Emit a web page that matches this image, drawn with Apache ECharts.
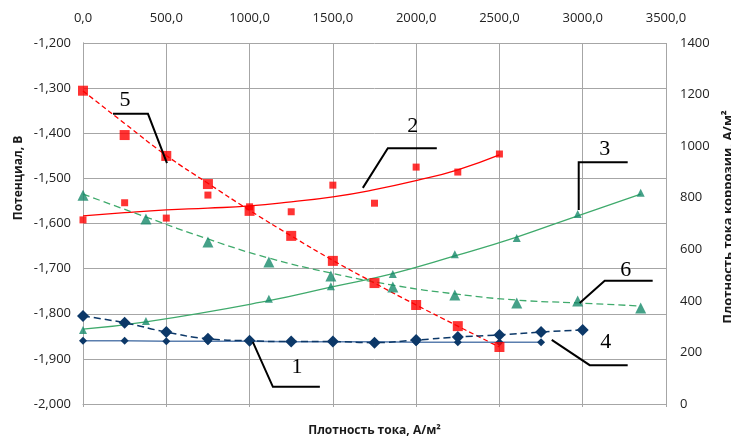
<!DOCTYPE html>
<html><head><meta charset="utf-8">
<script src="https://cdn.jsdelivr.net/npm/echarts@6/dist/echarts.min.js"></script>
<style>html,body{margin:0;padding:0;background:#fff}#c{width:731px;height:443px}</style>
</head><body><div id="c"></div>
<script>
// ---- data (x: current density, A/m2; potentials in V on left axis; corrosion current density on right axis) ----
const s1X = [0,250,500,750,1000,1250,1500,1750,2000,2250,2500,2750];
const s1Y = [-1.860,-1.860,-1.861,-1.861,-1.861,-1.862,-1.862,-1.862,-1.863,-1.863,-1.863,-1.863];

const s2X = [0,250,500,750,1000,1250,1500,1750,2000,2250,2500];
const s2Y = [-1.592,-1.554,-1.588,-1.537,-1.563,-1.574,-1.515,-1.555,-1.475,-1.486,-1.446];
const s2Trend = [-1.583,-1.576,-1.570,-1.566,-1.561,-1.552,-1.541,-1.525,-1.505,-1.481,-1.448];

const s3X = [0,378,1116,1488,1860,2232,2604,2970,3348];
const s3Y = [-1.836,-1.816,-1.767,-1.739,-1.712,-1.668,-1.632,-1.579,-1.532];
const s3Trend = [-1.834,-1.818,-1.771,-1.741,-1.711,-1.672,-1.630,-1.583,-1.535];

const s4X = [0,250,500,750,1000,1250,1500,1750,2000,2250,2500,2750,3000];
const s4Y = [341,315,279,253,245,242,242,238,248,260,268,279,287];

const s5X = [0,250,500,750,1000,1250,1500,1750,2000,2250,2500];
const s5Y = [1215,1043,962,853,749,652,555,469,384,302,221];
const s5Trend = [1214,1088,964,856,751,652,557,469,384,302,221];

const s6X = [0,378,750,1116,1488,1860,2232,2604,2970,3348];
const s6Y = [810,717,628,551,496,454,423,392,399,372];
const s6Trend = [814,725,640,566,508,461,427,403,392,380];

// annotation leader lines in data units (x, left-axis V)
const annotations = [
  {label:'5', at:[252,-1.326], pts:[[180,-1.357],[390,-1.357],[504,-1.466]]},
  {label:'2', at:[1980,-1.384], pts:[[1680,-1.521],[1830,-1.433],[2124,-1.433]]},
  {label:'3', at:[3132,-1.435], pts:[[2976,-1.570],[2976,-1.464],[3270,-1.464]]},
  {label:'6', at:[3258,-1.703], pts:[[2982,-1.776],[3132,-1.727],[3420,-1.727]]},
  {label:'4', at:[3138,-1.863], pts:[[2814,-1.858],[3042,-1.914],[3270,-1.914]]},
  {label:'1', at:[1284,-1.918], pts:[[1020,-1.863],[1140,-1.962],[1422,-1.962]]}
];

const zip = (xs, ys) => xs.map((x, i) => [x, ys[i]]);

const RED = '#ff0000', GREEN_M = '#17896a', GREEN_L = '#3faa6c', NAVY = '#0c3868', STEEL = '#5a7eae';
const GRID = '#a6a6a6';
const labelFont = {fontFamily: 'Open Sans', fontSize: 13, color: '#222'};

const chart = echarts.init(document.getElementById('c'), null, {renderer: 'canvas'});
chart.setOption({
  animation: false,
  backgroundColor: '#fff',
  grid: {left: 83, right: 65, top: 43, bottom: 39, containLabel: false},
  xAxis: [
    {type: 'value', position: 'top', min: 0, max: 3500, interval: 500,
     axisLine: {show: false}, axisTick: {show: false},
     axisLabel: Object.assign({formatter: v => v.toFixed(1).replace('.', ','), margin: 18}, labelFont),
     splitLine: {show: true, lineStyle: {color: GRID, width: 1}}},
    {type: 'value', position: 'bottom', min: 0, max: 3500, interval: 500,
     axisLine: {show: true, lineStyle: {color: GRID}}, axisTick: {show: true, inside: false, length: 3, lineStyle: {color: GRID}},
     axisLabel: {show: false}, splitLine: {show: false},
     name: 'Плотность тока, А/м²', nameLocation: 'middle', nameGap: 21,
     nameTextStyle: {fontFamily: 'Open Sans', fontWeight: 'bold', fontSize: 12, color: '#1a1a1a'}}
  ],
  yAxis: [
    {type: 'value', position: 'left', min: -2.0, max: -1.2, interval: 0.1,
     axisLine: {show: true, lineStyle: {color: GRID}}, axisTick: {show: false},
     axisLabel: Object.assign({formatter: v => v.toFixed(3).replace('.', ','), margin: 12}, labelFont),
     splitLine: {show: true, lineStyle: {color: GRID, width: 1}}},
    {type: 'value', position: 'right', min: 0, max: 1400, interval: 200,
     axisLine: {show: true, lineStyle: {color: GRID}}, axisTick: {show: false},
     axisLabel: Object.assign({formatter: v => String(Math.round(v)), margin: 14}, labelFont),
     splitLine: {show: false}}
  ],
  series: [
    // 1
    {name: '1', type: 'line', xAxisIndex: 0, yAxisIndex: 0, data: zip(s1X, s1Y),
     symbol: 'diamond', symbolSize: 8, itemStyle: {color: NAVY},
     lineStyle: {color: STEEL, width: 1.5}, z: 3},
    // 2 trend + markers
    {name: '2t', type: 'line', xAxisIndex: 0, yAxisIndex: 0, data: zip(s2X, s2Trend),
     smooth: true, showSymbol: false, lineStyle: {color: RED, width: 1.3}, z: 2},
    {name: '2', type: 'scatter', xAxisIndex: 0, yAxisIndex: 0, data: zip(s2X, s2Y),
     symbol: 'rect', symbolSize: 7, itemStyle: {color: RED}, z: 4},
    // 3 trend + markers
    {name: '3t', type: 'line', xAxisIndex: 0, yAxisIndex: 0, data: zip(s3X, s3Trend),
     smooth: true, showSymbol: false, lineStyle: {color: GREEN_L, width: 1.3}, z: 2},
    {name: '3', type: 'scatter', xAxisIndex: 0, yAxisIndex: 0, data: zip(s3X, s3Y),
     symbol: 'triangle', symbolSize: 8, itemStyle: {color: GREEN_M}, z: 4},
    // 4
    {name: '4', type: 'line', xAxisIndex: 0, yAxisIndex: 1, data: zip(s4X, s4Y),
     smooth: true, symbol: 'diamond', symbolSize: 12, itemStyle: {color: NAVY},
     lineStyle: {color: NAVY, width: 1.5, type: [7, 4]}, z: 3},
    // 5 trend + markers
    {name: '5t', type: 'line', xAxisIndex: 0, yAxisIndex: 1, data: zip(s5X, s5Trend),
     smooth: true, showSymbol: false, lineStyle: {color: RED, width: 1.3, type: [5, 3]}, z: 2},
    {name: '5', type: 'scatter', xAxisIndex: 0, yAxisIndex: 1, data: zip(s5X, s5Y),
     symbol: 'rect', symbolSize: 10, itemStyle: {color: RED}, z: 4},
    // 6 trend + markers
    {name: '6t', type: 'line', xAxisIndex: 0, yAxisIndex: 1, data: zip(s6X, s6Trend),
     smooth: true, showSymbol: false, lineStyle: {color: GREEN_L, width: 1.3, type: [7, 4]}, z: 2},
    {name: '6', type: 'scatter', xAxisIndex: 0, yAxisIndex: 1, data: zip(s6X, s6Y),
     symbol: 'triangle', symbolSize: 11, itemStyle: {color: GREEN_M}, z: 4}
  ]
});

// annotations and rotated axis titles
const px = p => chart.convertToPixel({xAxisIndex: 0, yAxisIndex: 0}, p);
const graphics = [];
annotations.forEach(a => {
  graphics.push({type: 'polyline', shape: {points: a.pts.map(px)}, style: {stroke: '#000', lineWidth: 2, fill: null}, z: 10});
  const c = px(a.at);
  graphics.push({type: 'text', x: c[0], y: c[1], style: {text: a.label, font: '22px "Liberation Serif"', fill: '#000', align: 'center', verticalAlign: 'middle'}, z: 10});
});
graphics.push({type: 'text', x: 19, y: 178, rotation: Math.PI / 2,
  style: {text: 'Потенциал, В', font: 'bold 12px "Open Sans"', fill: '#1a1a1a', align: 'center', verticalAlign: 'middle'}});
graphics.push({type: 'text', x: 728, y: 217, rotation: Math.PI / 2,
  style: {text: 'Плотность тока коррозии, А/м²', font: 'bold 13px "Open Sans"', fill: '#1a1a1a', align: 'center', verticalAlign: 'middle'}});
chart.setOption({graphic: graphics});
</script>
</body></html>
